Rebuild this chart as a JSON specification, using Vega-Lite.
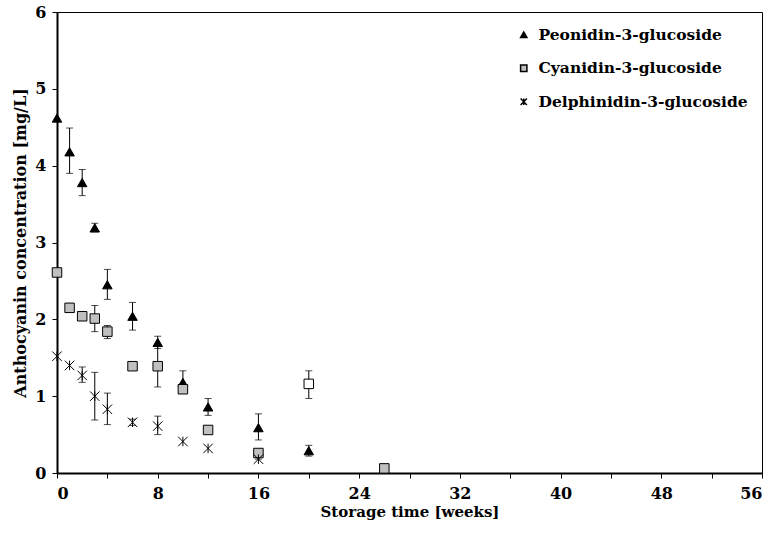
{
  "$schema": "https://vega.github.io/schema/vega-lite/v6.json",
  "width": 705,
  "height": 461,
  "autosize": {"type": "none"},
  "padding": {"left": 57, "top": 12, "right": 17, "bottom": 65},
  "background": "white",
  "config": {
    "view": {"stroke": "black", "strokeWidth": 1},
    "font": "DejaVu Serif",
    "axis": {
      "grid": false,
      "domainColor": "black",
      "domainWidth": 2,
      "tickColor": "black",
      "tickWidth": 1,
      "tickSize": 5,
      "labelFont": "DejaVu Serif",
      "labelFontWeight": "bold",
      "labelFontSize": 16,
      "labelColor": "black",
      "titleFont": "DejaVu Serif",
      "titleFontWeight": "bold",
      "titleFontSize": 15,
      "titleColor": "black"
    }
  },
  "data": {
    "values": [
      {"series": "Peonidin-3-glucoside", "week": 0, "value": 4.62},
      {"series": "Peonidin-3-glucoside", "week": 1, "value": 4.18, "lo": 3.9, "hi": 4.49},
      {"series": "Peonidin-3-glucoside", "week": 2, "value": 3.78, "lo": 3.61, "hi": 3.95},
      {"series": "Peonidin-3-glucoside", "week": 3, "value": 3.19, "lo": 3.14, "hi": 3.25},
      {"series": "Peonidin-3-glucoside", "week": 4, "value": 2.45, "lo": 2.26, "hi": 2.65},
      {"series": "Peonidin-3-glucoside", "week": 6, "value": 2.04, "lo": 1.86, "hi": 2.22},
      {"series": "Peonidin-3-glucoside", "week": 8, "value": 1.7, "lo": 1.62, "hi": 1.78},
      {"series": "Peonidin-3-glucoside", "week": 10, "value": 1.18, "lo": 1.05, "hi": 1.33},
      {"series": "Peonidin-3-glucoside", "week": 12, "value": 0.86, "lo": 0.75, "hi": 0.97},
      {"series": "Peonidin-3-glucoside", "week": 16, "value": 0.59, "lo": 0.43, "hi": 0.77},
      {"series": "Peonidin-3-glucoside", "week": 20, "value": 0.29, "lo": 0.22, "hi": 0.36},
      {"series": "Cyanidin-3-glucoside", "week": 0, "value": 2.61},
      {"series": "Cyanidin-3-glucoside", "week": 1, "value": 2.15, "lo": 2.1, "hi": 2.2},
      {"series": "Cyanidin-3-glucoside", "week": 2, "value": 2.04},
      {"series": "Cyanidin-3-glucoside", "week": 3, "value": 2.01, "lo": 1.84, "hi": 2.18},
      {"series": "Cyanidin-3-glucoside", "week": 4, "value": 1.84, "lo": 1.75, "hi": 1.92},
      {"series": "Cyanidin-3-glucoside", "week": 6, "value": 1.39, "lo": 1.35, "hi": 1.43},
      {"series": "Cyanidin-3-glucoside", "week": 8, "value": 1.39, "lo": 1.12, "hi": 1.66},
      {"series": "Cyanidin-3-glucoside", "week": 10, "value": 1.09, "lo": 1.05, "hi": 1.13},
      {"series": "Cyanidin-3-glucoside", "week": 12, "value": 0.56},
      {"series": "Cyanidin-3-glucoside", "week": 16, "value": 0.26, "lo": 0.18, "hi": 0.3},
      {"series": "Cyanidin-3-glucoside", "week": 20, "value": 1.16, "lo": 0.97, "hi": 1.33, "hollow": true},
      {"series": "Cyanidin-3-glucoside", "week": 26, "value": 0.06},
      {"series": "Delphinidin-3-glucoside", "week": 0, "value": 1.52},
      {"series": "Delphinidin-3-glucoside", "week": 1, "value": 1.4},
      {"series": "Delphinidin-3-glucoside", "week": 2, "value": 1.27, "lo": 1.18, "hi": 1.38},
      {"series": "Delphinidin-3-glucoside", "week": 3, "value": 1.0, "lo": 0.69, "hi": 1.31},
      {"series": "Delphinidin-3-glucoside", "week": 4, "value": 0.83, "lo": 0.63, "hi": 1.04},
      {"series": "Delphinidin-3-glucoside", "week": 6, "value": 0.66, "lo": 0.62, "hi": 0.7},
      {"series": "Delphinidin-3-glucoside", "week": 8, "value": 0.61, "lo": 0.5, "hi": 0.74},
      {"series": "Delphinidin-3-glucoside", "week": 10, "value": 0.41},
      {"series": "Delphinidin-3-glucoside", "week": 12, "value": 0.32},
      {"series": "Delphinidin-3-glucoside", "week": 16, "value": 0.18}
    ]
  },
  "encoding": {
    "x": {
      "field": "week", "type": "quantitative",
      "scale": {"domain": [0, 56], "nice": false, "zero": true},
      "axis": {
        "title": "Storage time [weeks]",
        "values": [0, 4, 8, 12, 16, 20, 24, 28, 32, 36, 40, 44, 48, 52, 56],
        "labelExpr": "datum.value % 8 == 0 ? datum.label : ''",
        "labelPadding": 7,
        "titlePadding": 3
      }
    }
  },
  "layer": [
    {
      "transform": [{"filter": "isValid(datum.lo)"}],
      "mark": {"type": "rule", "color": "black", "strokeWidth": 1},
      "encoding": {
        "y": {"field": "lo", "type": "quantitative"},
        "y2": {"field": "hi"}
      }
    },
    {
      "transform": [{"filter": "isValid(datum.lo)"}],
      "mark": {"type": "tick", "orient": "horizontal", "color": "black", "size": 7, "thickness": 1},
      "encoding": {"y": {"field": "lo", "type": "quantitative"}}
    },
    {
      "transform": [{"filter": "isValid(datum.hi)"}],
      "mark": {"type": "tick", "orient": "horizontal", "color": "black", "size": 7, "thickness": 1},
      "encoding": {"y": {"field": "hi", "type": "quantitative"}}
    },
    {
      "mark": {"type": "point", "filled": false, "stroke": "black", "strokeWidth": 1, "opacity": 1, "size": 90},
      "encoding": {
        "y": {
          "field": "value", "type": "quantitative",
          "scale": {"domain": [0, 6], "nice": false},
          "axis": {
            "title": "Anthocyanin concentration [mg/L]",
            "titleFontSize": 16,
            "values": [0, 0.5, 1, 1.5, 2, 2.5, 3, 3.5, 4, 4.5, 5, 5.5, 6],
            "labelExpr": "datum.value % 1 == 0 ? format(datum.value, 'd') : ''",
            "labelPadding": 6,
            "titlePadding": 6
          }
        },
        "shape": {
          "field": "series", "type": "nominal",
          "scale": {
            "domain": ["Peonidin-3-glucoside", "Cyanidin-3-glucoside", "Delphinidin-3-glucoside"],
            "range": ["triangle-up", "square", "M-1,-1L1,1M-1,1L1,-1M0,-1L0,1"]
          },
          "legend": {
            "title": null,
            "orient": "none",
            "legendX": 459,
            "legendY": 15,
            "labelFont": "DejaVu Serif",
            "labelFontWeight": "bold",
            "labelFontSize": 15.5,
            "labelColor": "black",
            "labelLimit": 400,
            "symbolSize": 40,
            "rowPadding": 16.5,
            "labelOffset": 7,
            "encode": {"symbols": {"update": {"stroke": {"value": "black"}, "strokeWidth": {"value": 1}}}}
          }
        },
        "fill": {
          "condition": {"test": "datum.hollow === true", "value": "white"},
          "field": "series", "type": "nominal",
          "scale": {
            "domain": ["Peonidin-3-glucoside", "Cyanidin-3-glucoside", "Delphinidin-3-glucoside"],
            "range": ["black", "#c0c0c0", "transparent"]
          },
          "legend": {
            "title": null,
            "orient": "none",
            "legendX": 459,
            "legendY": 15,
            "labelFont": "DejaVu Serif",
            "labelFontWeight": "bold",
            "labelFontSize": 15.5,
            "labelColor": "black",
            "labelLimit": 400,
            "symbolSize": 40,
            "rowPadding": 16.5,
            "labelOffset": 7,
            "encode": {"symbols": {"update": {"stroke": {"value": "black"}, "strokeWidth": {"value": 1}}}}
          }
        }
      }
    }
  ]
}
